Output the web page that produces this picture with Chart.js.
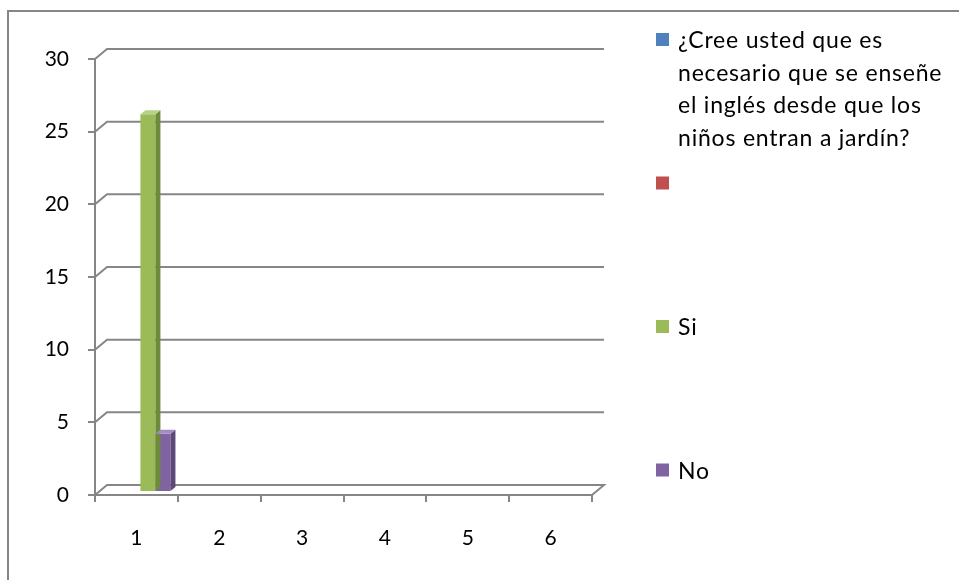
<!DOCTYPE html>
<html>
<head>
<meta charset="utf-8">
<script src="https://cdn.jsdelivr.net/npm/chart.js@4.4.1/dist/chart.umd.min.js"></script>
<style>
  html, body { margin: 0; padding: 0; background: #fff; }
  canvas { display: block; }
</style>
</head>
<body>
<canvas id="chart" width="959" height="580"></canvas>
<script>
const categories = ["1", "2", "3", "4", "5", "6"];
const seriesNames = [
  "¿Cree usted que es necesario que se enseñe el inglés desde que los niños entran a jardín?",
  "",
  "Si",
  "No",
];
const questionValues = [null, null, null, null, null, null];
const blankValues = [null, null, null, null, null, null];
const siValues = [26, null, null, null, null, null];
const noValues = [4, null, null, null, null, null];

const frontColors = ["#4F81BD", "#C0504D", "#9BBB59", "#8064A2"];
const sideColors = ["#3A6190", "#903C3A", "#6E8A3B", "#5D4879"];
const topColors = ["#7FA3D1", "#D17F7D", "#B8D088", "#A18BC0"];

const gridColor = "#868686";
const fontFamily = "Lato, 'Liberation Sans', sans-serif";
const depth = { x: 12, y: -10 };
const barShift = { x: 4, y: -3 };
const barDepth = { x: 5, y: -4 };

function wrapText(ctx, text, maxWidth) {
  const words = text.split(" ");
  const lines = [];
  let line = "";
  words.forEach((w) => {
    const test = line ? line + " " + w : w;
    if (ctx.measureText(test).width > maxWidth && line) {
      lines.push(line);
      line = w;
    } else {
      line = test;
    }
  });
  lines.push(line);
  return lines;
}

const threeD = {
  id: "threeD",
  beforeDraw(chart) {
    const ctx = chart.ctx;
    ctx.save();
    ctx.strokeStyle = gridColor;
    ctx.lineWidth = 2;
    ctx.beginPath();
    ctx.moveTo(8, 580);
    ctx.lineTo(8, 11);
    ctx.lineTo(959, 11);
    ctx.stroke();
    ctx.restore();
  },
  beforeDatasetsDraw(chart) {
    const ctx = chart.ctx;
    const { left, right } = chart.chartArea;
    const y = chart.scales.y;
    ctx.save();
    ctx.strokeStyle = gridColor;
    ctx.lineWidth = 2;
    y.ticks.forEach((t) => {
      const py = y.getPixelForValue(t.value);
      ctx.beginPath();
      ctx.moveTo(left, py);
      ctx.lineTo(left + depth.x, py + depth.y);
      ctx.lineTo(right + depth.x, py + depth.y);
      if (t.value === 0) ctx.lineTo(right, py);
      ctx.stroke();
    });
    ctx.restore();
    ctx.save();
    ctx.translate(barShift.x, barShift.y);
  },
  afterDatasetsDraw(chart) {
    const ctx = chart.ctx;
    chart.data.datasets.forEach((ds, i) => {
      const meta = chart.getDatasetMeta(i);
      meta.data.forEach((bar, j) => {
        if (ds.data[j] === null) return;
        const { x, y, base, width } = bar.getProps(["x", "y", "base", "width"], true);
        const l = x - width / 2;
        const r = x + width / 2;
        ctx.fillStyle = sideColors[i];
        ctx.beginPath();
        ctx.moveTo(r, y);
        ctx.lineTo(r + barDepth.x, y + barDepth.y);
        ctx.lineTo(r + barDepth.x, base + barDepth.y);
        ctx.lineTo(r, base);
        ctx.closePath();
        ctx.fill();
        ctx.fillStyle = topColors[i];
        ctx.beginPath();
        ctx.moveTo(l, y);
        ctx.lineTo(l + barDepth.x, y + barDepth.y);
        ctx.lineTo(r + barDepth.x, y + barDepth.y);
        ctx.lineTo(r, y);
        ctx.closePath();
        ctx.fill();
      });
    });
    ctx.restore();
  },
  afterDraw(chart) {
    const ctx = chart.ctx;
    ctx.save();
    ctx.font = "23px " + fontFamily;
    ctx.letterSpacing = "0.8px";
    ctx.textBaseline = "alphabetic";
    const top = 40;
    const step = 143.5;
    seriesNames.forEach((name, i) => {
      const cy = top + i * step;
      ctx.fillStyle = frontColors[i];
      ctx.fillRect(656, cy - 7, 13, 13);
      ctx.fillStyle = "#000";
      const lines = name ? wrapText(ctx, name, 272) : [];
      lines.forEach((ln, k) => {
        ctx.fillText(ln, 678, cy + 8 + k * 32.7);
      });
    });
    ctx.restore();
  },
};

new Chart(document.getElementById("chart"), {
  type: "bar",
  data: {
    labels: categories,
    datasets: [
      { label: seriesNames[0], data: questionValues },
      { label: seriesNames[1], data: blankValues },
      { label: seriesNames[2], data: siValues },
      { label: seriesNames[3], data: noValues },
    ].map((d, i) => ({
      ...d,
      backgroundColor: frontColors[i],
      categoryPercentage: 0.725,
      barPercentage: 1,
      clip: false,
    })),
  },
  options: {
    responsive: false,
    devicePixelRatio: 1,
    animation: false,
    layout: { padding: { top: 59, right: 367, left: 0, bottom: 0 } },
    plugins: { legend: { display: false }, tooltip: { enabled: false } },
    scales: {
      x: {
        offset: true,
        grid: {
          drawOnChartArea: false,
          drawTicks: true,
          tickLength: 7,
          color: gridColor,
          lineWidth: 2,
          offset: true,
        },
        border: { color: gridColor, width: 2 },
        ticks: { color: "#000", padding: 24, font: { family: fontFamily, size: 21 } },
        afterFit: (s) => { s.height = 85; },
      },
      y: {
        min: 0,
        max: 30,
        grid: {
          drawOnChartArea: false,
          drawTicks: true,
          tickLength: 7,
          color: gridColor,
          lineWidth: 2,
        },
        border: { color: gridColor, width: 2 },
        ticks: { stepSize: 5, color: "#000", padding: 19, font: { family: fontFamily, size: 21 } },
        afterFit: (s) => { s.width = 95; },
      },
    },
  },
  plugins: [threeD],
});
</script>
</body>
</html>
